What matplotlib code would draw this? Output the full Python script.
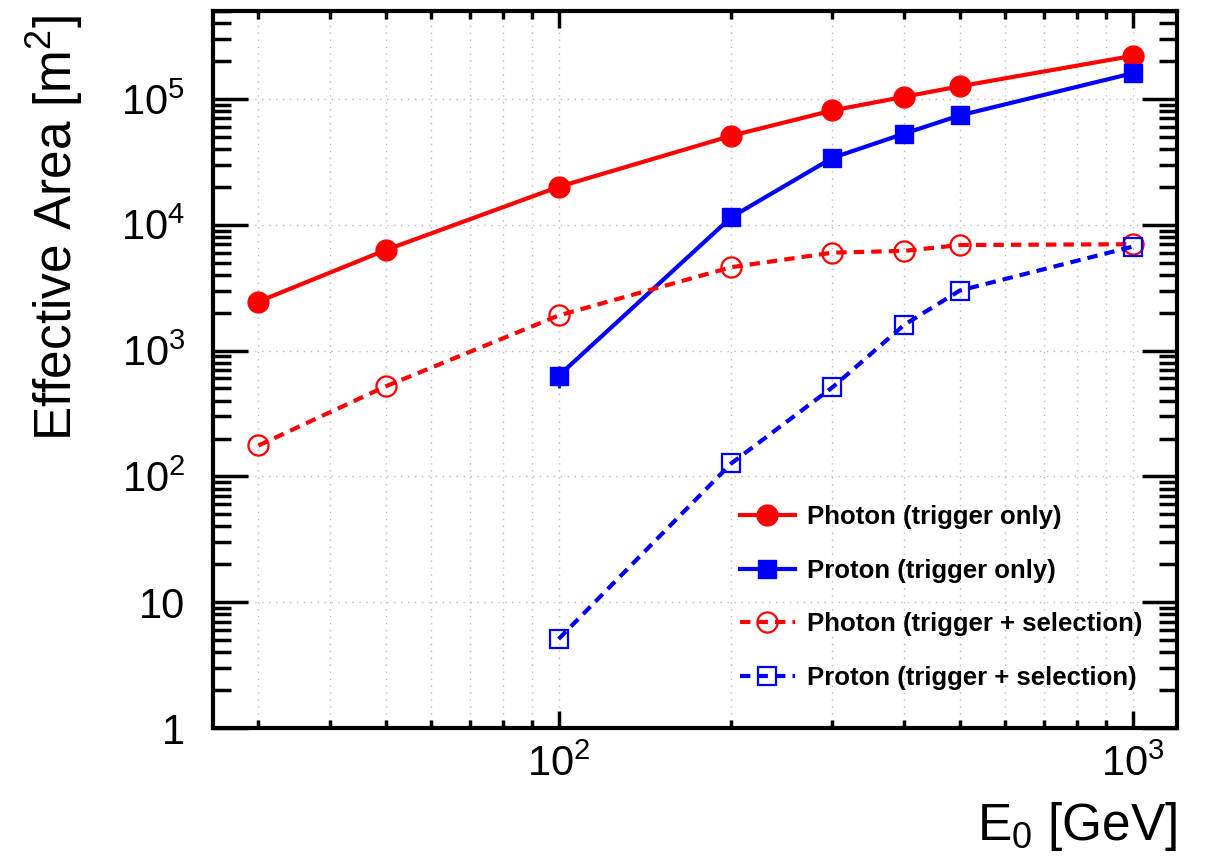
import matplotlib
matplotlib.use("Agg")
import matplotlib.pyplot as plt
from matplotlib.ticker import FixedLocator, LogLocator, NullFormatter, FuncFormatter

plt.rcParams['font.family'] = ['Liberation Sans', 'DejaVu Sans']
plt.rcParams['mathtext.fontset'] = 'custom'
plt.rcParams['mathtext.rm'] = 'Liberation Sans'
plt.rcParams['mathtext.it'] = 'Liberation Sans:italic'
plt.rcParams['mathtext.bf'] = 'Liberation Sans:bold'

# ---- data ----
energy_photon = [30, 50, 100, 200, 300, 400, 500, 1000]
energy_proton = [100, 200, 300, 400, 500, 1000]

photon_trig = [2450, 6300, 2.0e4, 5.1e4, 8.1e4, 1.04e5, 1.26e5, 2.2e5]
proton_trig = [630, 1.15e4, 3.4e4, 5.3e4, 7.4e4, 1.6e5]
proton_trig_err = [130, 0, 0, 0, 0, 0]
photon_sel = [176, 520, 1900, 4600, 6000, 6200, 6900, 7000]
proton_sel = [5.1, 127, 510, 1600, 3000, 6700]

labels = ["Photon (trigger only)", "Proton (trigger only)",
          "Photon (trigger + selection)", "Proton (trigger + selection)"]

ytick_vals = [1, 10, 100, 1000, 1e4, 1e5]
ytick_labels = ["1", "10", "10$^{2}$", "10$^{3}$", "10$^{4}$", "10$^{5}$"]
xtick_vals = [100, 1000]
xtick_labels = ["10$^{2}$", "10$^{3}$"]

W, H = 1206, 858
fig = plt.figure(figsize=(W / 100, H / 100), dpi=100)
ax = fig.add_axes([213 / W, 1 - 728 / H, (1177 - 213) / W, (728 - 11) / H])

red = '#ff0000'
blue = '#0000ff'
dash = (0, (2.5, 1.7))

h1, = ax.plot(energy_photon, photon_trig, color=red, lw=3, marker='o', ms=15,
              label=labels[0], zorder=5)
ax.errorbar(energy_proton, proton_trig, yerr=proton_trig_err, color=blue, lw=0,
            elinewidth=2, capsize=0, fmt='none', zorder=4)
h2, = ax.plot(energy_proton, proton_trig, color=blue, lw=3, marker='s', ms=13,
              label=labels[1], zorder=5)
h3, = ax.plot(energy_photon, photon_sel, color=red, lw=3, ls=dash, marker='o', ms=14.5,
              mfc='none', mec=red, mew=1.6, label=labels[2], zorder=5)
h4, = ax.plot(energy_proton, proton_sel, color=blue, lw=3, ls=dash, marker='s', ms=13,
              mfc='none', mec=blue, mew=1.6, label=labels[3], zorder=5)

ax.set_xscale('log')
ax.set_yscale('log')
ax.set_xlim(25, 1195)
ax.set_ylim(1, 5e5)

ax.xaxis.set_major_locator(FixedLocator(xtick_vals))
ax.xaxis.set_major_formatter(FuncFormatter(lambda v, p: xtick_labels[xtick_vals.index(v)] if v in xtick_vals else ""))
ax.xaxis.set_minor_locator(LogLocator(base=10, subs=range(2, 10), numticks=20))
ax.xaxis.set_minor_formatter(NullFormatter())
ax.yaxis.set_major_locator(FixedLocator(ytick_vals))
ax.yaxis.set_major_formatter(FuncFormatter(lambda v, p: ytick_labels[ytick_vals.index(v)] if v in ytick_vals else ""))
ax.yaxis.set_minor_locator(LogLocator(base=10, subs=range(2, 10), numticks=20))
ax.yaxis.set_minor_formatter(NullFormatter())

ax.tick_params(axis='both', which='both', direction='in', top=True, right=True,
               width=2.5, labelsize=30)
ax.tick_params(axis='y', which='major', length=25, pad=20)
ax.tick_params(axis='y', which='minor', length=13)
ax.tick_params(axis='x', which='major', length=12, pad=12)
ax.tick_params(axis='x', which='minor', length=6)

for s in ax.spines.values():
    s.set_linewidth(3)

ax.grid(True, axis='x', which='both', ls=(0, (1, 4)), color='#bbbbbb', lw=1)
ax.grid(True, axis='y', which='major', ls=(0, (1, 4)), color='#bbbbbb', lw=1)
ax.set_axisbelow(True)

fig.text(55 / W, 1 - 15 / H, "Effective Area [m$^{2}$]", rotation=90,
         ha='center', va='top', fontsize=37)
fig.text(1177 / W, 1 - 840 / H, "E$_{0}$ [GeV]", ha='right', va='baseline',
         fontsize=37)

leg = ax.legend(handles=[h1, h2, h3, h4], loc='upper left',
                bbox_to_anchor=(740 / W, 1 - 505 / H),
                bbox_transform=fig.transFigure, frameon=False,
                prop={'weight': 'bold', 'size': 18.5}, handlelength=2.14,
                handletextpad=0.47, labelspacing=1.15, borderpad=0,
                borderaxespad=0)

fig.savefig("out.png", dpi=100)
